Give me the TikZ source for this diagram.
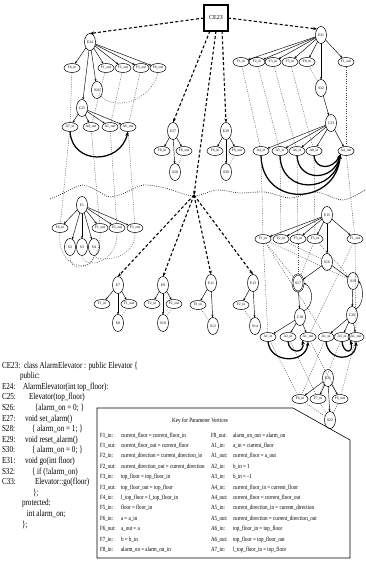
\documentclass[tikz,border=0pt]{standalone}
\usepackage{fontspec}
\setmainfont{Liberation Serif}
\newfontfamily\condfont[FakeStretch=0.8]{Liberation Serif}
\newfontfamily\codefont[FakeStretch=0.78]{Liberation Serif}
\usetikzlibrary{shapes.geometric,arrows.meta}
\begin{document}
\begin{tikzpicture}[x=1pt,y=-1pt,
  every node/.style={inner sep=0pt,outer sep=0pt},
  pnode/.style={draw,ellipse,line width=0.5pt,minimum width=16pt,minimum height=9pt,font=\fontsize{3.6}{4}\selectfont},
  snode/.style={draw,ellipse,line width=0.5pt,minimum width=11pt,minimum height=17pt,font=\fontsize{3.8}{4}\selectfont},
  ed/.style={-{Stealth[length=2.6pt,width=2pt]},line width=0.45pt},
  callx/.style={-{Stealth[length=4pt,width=3pt]},line width=1.1pt,dash pattern=on 3pt off 2.2pt},
  flow/.style={line width=0.4pt,dash pattern=on 1pt off 1.3pt,black!75},
  wave/.style={line width=0.6pt,dash pattern=on 0.8pt off 1.4pt},
  summ/.style={-{Stealth[length=4.5pt,width=3.5pt]},line width=1.25pt},
  codetxt/.style={anchor=base west,font=\fontsize{9.2}{9}\codefont},
  keytxt/.style={anchor=base west,font=\fontsize{6.3}{7}\condfont},
]
\useasboundingbox (0,0) rectangle (365,583);

% ---------------- top: class entry
\node[draw,line width=1.1pt,minimum width=24pt,minimum height=26pt,font=\fontsize{6}{6}\selectfont] (ce23) at (216,18) {CE23};

% ---------------- E24 cluster
\node[snode] (e24) at (90,42) {E24};
\node[pnode] (l1a) at (72,68) {F4\_in};
\node[pnode] (l1b) at (106,68) {F1\_out};
\node[pnode] (l1c) at (123,68) {F2\_out};
\node[pnode] (l1d) at (141,68) {F3\_out};
\node[pnode] (l1e) at (158,68) {F8\_out};
\node[snode] (s26) at (97,90) {S26};
\node[snode] (c25) at (82,108) {C25};
\node[pnode] (l2a) at (70,127) {A7\_in};
\node[pnode] (l2b) at (91,127) {A4\_out};
\node[pnode] (l2c) at (110,127) {A5\_out};
\node[pnode] (l2d) at (128,127) {A6\_out};
\foreach \n in {l1a,l1b,l1c,l1d,l1e,s26,c25} \draw[ed] (e24) -- (\n);
\foreach \n in {l2a,l2b,l2c,l2d} \draw[ed] (c25) -- (\n);
\draw[summ] (l2a.south) .. controls (72,165) and (120,165) .. (l2d.south);

% ---------------- E1 cluster (below wave)
\node[snode] (e1) at (82,205) {E1};
\node[pnode] (b1a) at (60,228) {F4\_in};
\node[pnode] (b1b) at (100,228) {F1\_out};
\node[pnode] (b1c) at (117,228) {F2\_out};
\node[pnode] (b1d) at (135,228) {F3\_out};
\node[snode] (s2) at (70,247) {S2};
\node[snode] (s3) at (82,247) {S3};
\node[snode] (s4) at (94,247) {S4};
\foreach \n in {b1a,b1b,b1c,b1d,s2,s3,s4} \draw[ed] (e1) -- (\n);

% ---------------- E27 / E29 groups
\node[snode] (e27) at (173,131) {E27};
\node[pnode] (m1a) at (162,151) {F8\_in};
\node[pnode] (m1b) at (184,151) {F8\_out};
\node[snode] (s28) at (175,172) {S28};
\foreach \n in {m1a,m1b,s28} \draw[ed] (e27) -- (\n);
\node[snode] (e29) at (226,131) {E29};
\node[pnode] (m2a) at (215,151) {F8\_in};
\node[pnode] (m2b) at (237,151) {F8\_out};
\node[snode] (s30) at (226,172) {S30};
\foreach \n in {m2a,m2b,s30} \draw[ed] (e29) -- (\n);

% ---------------- E31 cluster
\node[snode] (e31) at (321,35) {E31};
\node[pnode] (t1a) at (241,62) {F1\_in};
\node[pnode] (t1b) at (257,62) {F2\_in};
\node[pnode] (t1c) at (273,62) {F3\_in};
\node[pnode] (t1d) at (290,62) {F5\_in};
\node[pnode] (t1e) at (307,62) {F8\_in};
\node[pnode] (t1f) at (346,62) {F1\_out};
\node[snode] (s32) at (321,88) {S32};
\node[snode] (c33) at (331,123) {C33};
\node[pnode] (t2a) at (261,151) {A4\_in};
\node[pnode] (t2b) at (280,151) {A5\_in};
\node[pnode] (t2c) at (297,151) {A6\_in};
\node[pnode] (t2d) at (314,151) {A8\_in};
\node[pnode] (t2e) at (346,151) {A4\_out};
\foreach \n in {t1a,t1b,t1c,t1d,t1e,t1f,s32} \draw[ed] (e31) -- (\n);
\draw[ed] (s32) -- (c33);
\foreach \n in {t2a,t2b,t2c,t2d,t2e} \draw[ed] (c33) -- (\n);
\draw[summ] (t2a.south) .. controls (262,208) and (336,206) .. (t2e.south west);
\draw[summ] (t2b.south) .. controls (281,195) and (335,194) .. (t2e.south west);
\draw[summ] (t2c.south) .. controls (298,182) and (334,182) .. (t2e.south west);
\draw[summ] (t2d.south) .. controls (315,170) and (333,170) .. (t2e.south west);

% ---------------- E15 cluster (below wave)
\node[snode] (e15) at (327,215) {E15};
\node[pnode] (r1a) at (263,239) {F1\_in};
\node[pnode] (r1b) at (281,239) {F2\_in};
\node[pnode] (r1c) at (298,239) {F3\_in};
\node[pnode] (r1d) at (315,239) {F5\_in};
\node[pnode] (r1e) at (355,239) {F1\_out};
\node[snode] (s16) at (327,262) {S16};
\node[snode,double,double distance=0.6pt] (s17) at (298,283) {S17};
\node[snode] (s19) at (353,281) {S19};
\node[snode] (c18) at (300,317) {C18};
\node[snode] (c20) at (352,315) {C20};
\node[pnode] (r2a) at (268,337) {A1\_in};
\node[pnode] (r2b) at (288,337) {A2\_in};
\node[pnode] (r2c) at (308,337) {A1\_out};
\node[pnode] (r2d) at (326,337) {A1\_in};
\node[pnode] (r2e) at (342,337) {A3\_in};
\node[pnode] (r2f) at (356,337) {A1\_out};
\node[snode] (e21) at (328,378) {E21};
\node[pnode] (r3a) at (300,399) {F6\_in};
\node[pnode] (r3b) at (318,399) {F7\_in};
\node[pnode] (r3c) at (340,399) {F6\_out};
\node[snode] (s22) at (330,420) {S22};
\foreach \n in {r1a,r1b,r1c,r1d,r1e,s16} \draw[ed] (e15) -- (\n);
\draw[ed] (s16) -- (s17);
\draw[ed] (s16) -- (s19);
\draw[ed] (s17) -- (c18);
\draw[ed] (s19) -- (c20);
\foreach \n in {r2a,r2b,r2c} \draw[ed] (c18) -- (\n);
\foreach \n in {r2d,r2e,r2f} \draw[ed] (c20) -- (\n);
\foreach \n in {r3a,r3b,r3c,s22} \draw[ed] (e21) -- (\n);
\draw[summ] (r2a.south) .. controls (270,364) and (306,364) .. (r2c.south);
\draw[summ] (r2b.south) .. controls (289,354) and (305,354) .. (r2c.south west);
\draw[summ] (r2d.south) .. controls (328,362) and (356,362) .. (r2f.south);
\draw[summ] (r2e.south) .. controls (343,354) and (354,354) .. (r2f.south west);

% ---------------- lower method groups
\node[snode] (e7) at (118,285) {E7};
\node[pnode] (g1a) at (102,304) {F1\_in};
\node[pnode] (g1b) at (129,304) {F1\_out};
\node[snode] (s8) at (118,323) {S8};
\node[snode] (e9) at (163,285) {E9};
\node[pnode] (g2a) at (152,304) {F2\_in};
\node[pnode] (g2b) at (174,304) {F2\_out};
\node[snode] (s10) at (163,323) {S10};
\node[snode] (e11) at (211,283) {E11};
\node[pnode] (g3a) at (198,305) {F1\_in};
\node[snode] (s12) at (213,326) {S12};
\node[snode] (e13) at (253,283) {E13};
\node[pnode] (g4a) at (241,305) {F2\_in};
\node[snode] (s14) at (255,326) {S14};
\foreach \n in {g1a,g1b,s8} \draw[ed] (e7) -- (\n);
\foreach \n in {g2a,g2b,s10} \draw[ed] (e9) -- (\n);
\foreach \n in {g3a,s12} \draw[ed] (e11) -- (\n);
\foreach \n in {g4a,s14} \draw[ed] (e13) -- (\n);

% ---------------- separating wave
\draw[wave] plot[smooth] coordinates {(50,199) (66,192) (82,185) (96,190) (110,197) (127,192) (143,185) (165,188) (193,196) (217,190) (240,193) (265,192) (290,198) (316,192) (343,200) (365,190)};

% ---------------- call edges
\coordinate (fan) at (194,195);
\draw[callx] (ce23.west) -- (e24.north);
\draw[callx] (ce23.east) -- (e31.north west);
\draw[callx] (ce23.-115) -- (e27.north);
\draw[callx] (ce23.south) -- (fan);
\draw[callx] (ce23.-65) -- (e29.north);
\foreach \n in {e7,e9,e11,e13} \draw[callx] (fan) -- (\n.north);

% ---------------- data-flow edges
\draw[flow] (s26.south east) .. controls (115,112) and (152,100) .. (l1e.south);
\draw[flow] (l1a) -- (l2a);
\draw[flow] (l2b) -- (l1b);
\draw[flow] (l2c) -- (l1c);
\draw[flow] (l2d) -- (l1d);
\draw[flow] (l2a) -- (b1a);
\draw[flow] (b1b) -- (l2b);
\draw[flow] (b1c) -- (l2c);
\draw[flow] (b1d) -- (l2d);
\draw[flow] (s2.south) .. controls (68,276) and (102,270) .. (b1b.south);
\draw[flow] (s3.south) .. controls (84,270) and (118,264) .. (b1c.south);
\draw[flow] (s4.south) .. controls (98,263) and (136,260) .. (b1d.south);
\draw[flow] (b1a.south) .. controls (56,268) and (92,274) .. (s4.south);
\draw[flow] (s28) -- (m1b);
\draw[flow] (s30) -- (m2b);
\draw[flow] (t1a) -- (t2a);
\draw[flow] (t1b) -- (t2b);
\draw[flow] (t1c) -- (t2c);
\draw[flow] (t1d) -- (t2d);
\draw[flow] (t2e) -- (t1f);
\draw[flow] (t1e) -- (s32);
\draw[flow] (t2a) -- (r1a);
\draw[flow] (t2b) -- (r1b);
\draw[flow] (t2c) -- (r1c);
\draw[flow] (t2d) -- (r1d);
\draw[flow] (r1e) -- (t2e);
\draw[flow] (r1a) -- (s17);
\draw[flow] (r1a) -- (s19);
\draw[flow] (r1b) -- (s16);
\draw[flow] (r1c) -- (s17);
\draw[flow] (r1d) -- (s19);
\draw[flow] (r1d) -- (s17);
\draw[flow] (r1a) -- (r2a);
\draw[flow] (r1a) -- (r2d);
\draw[flow] (r2c) -- (r1e);
\draw[flow] (r2f) -- (r1e);
\draw[flow] (r2a) -- (r3a);
\draw[flow] (r2b) -- (r3b);
\draw[flow] (r3c) -- (r2c);
\draw[flow] (r2d) -- (r3a);
\draw[flow] (r2e) -- (r3b);
\draw[flow] (r3c) -- (r2f);
\draw[flow] (r3a) -- (s22);
\draw[flow] (r3b) -- (s22);
\draw[flow] (s22) -- (r3c);
\draw[flow] (g1b) -- (s8);
\draw[flow] (g2b) -- (s10);
\draw[flow] (g3a) -- (s12);
\draw[flow] (g4a) -- (s14);
\draw[ed] (c18.north east) .. controls (314,306) and (314,288) .. (s17.east);
\draw[ed] (c20.north east) .. controls (364,305) and (364,288) .. (s19.east);

% ---------------- source code
\node[codetxt] (k1) at (2,368) {CE23:};  \node[codetxt] (c1) at (24,368) {class AlarmElevator : public Elevator \{};
\node[codetxt] (c2) at (20,378.6) {public:};
\node[codetxt] (k3) at (2,389.2) {E24:};   \node[codetxt] (c3) at (23,389.2) {AlarmElevator(int top\_floor):};
\node[codetxt] (k4) at (2,399.8) {C25:};   \node[codetxt] (c4) at (29,399.8) {Elevator(top\_floor)};
\node[codetxt] (k5) at (2,410.4) {S26:};   \node[codetxt] (c5) at (35,410.4) {\{alarm\_on = 0; \}};
\node[codetxt] (k6) at (2,421) {E27:};   \node[codetxt] (c6) at (25,421) {void set\_alarm()};
\node[codetxt] (k7) at (2,431.6) {S28:};   \node[codetxt] (c7) at (32,431.6) {\{ alarm\_on = 1; \}};
\node[codetxt] (k8) at (2,442.2) {E29:};   \node[codetxt] (c8) at (25,442.2) {void reset\_alarm()};
\node[codetxt] (k9) at (2,452.8) {S30:};   \node[codetxt] (c9) at (32,452.8) {\{ alarm\_on = 0; \}};
\node[codetxt] (k10) at (2,463.4) {E31:};  \node[codetxt] (c10) at (25,463.4) {void go(int floor)};
\node[codetxt] (k11) at (2,474) {S32:};  \node[codetxt] (c11) at (32,474) {\{ if (!alarm\_on)};
\node[codetxt] (k12) at (2,484.6) {C33:};  \node[codetxt] (c12) at (35,484.6) {Elevator::go(floor)};
\node[codetxt] (c13) at (33,495.2) {\};};
\node[codetxt] (c14) at (22,505.8) {protected:};
\node[codetxt] (c15) at (27,516.4) {int alarm\_on;};
\node[codetxt] (c16) at (22,527) {\};};

% ---------------- key table
\draw[line width=0.6pt] (97,408) -- (293,408) -- (350,440) -- (350,558) -- (97,558) -- cycle;
\node[font=\fontsize{6.4}{7}\condfont] (kt) at (200,421) {Key for Parameter Vertices};
\foreach \a/\b/\c/\d [count=\i] in {
 F1\_in:/current\_floor = current\_floor\_in/F8\_out:/alarm\_on\_out = alarm\_on,
 F1\_out:/current\_floor\_out = current\_floor/A1\_in:/a\_in = current\_floor,
 F2\_in:/current\_direction = current\_direction\_in/A1\_out:/current\_floor = a\_out,
 F2\_out:/current\_direction\_out = current\_direction/A2\_in:/b\_in = 1,
 F3\_in:/top\_floor = top\_floor\_in/A3\_in:/b\_in = -1,
 F3\_out:/top\_floor\_out = top\_floor/A4\_in:/current\_floor\_in = current\_floor,
 F4\_in:/l\_top\_floor = l\_top\_floor\_in/A4\_out:/current\_floor = current\_floor\_out,
 F5\_in:/floor = floor\_in/A5\_in:/current\_direction\_in = current\_direction,
 F6\_in:/a = a\_in/A5\_out:/current\_direction = current\_direction\_out,
 F6\_out:/a\_out = a/A6\_in:/top\_floor\_in = top\_floor,
 F7\_in:/b = b\_in/A6\_out:/top\_floor = top\_floor\_out,
 F8\_in:/alarm\_on = alarm\_on\_in/A7\_in:/l\_top\_floor\_in = top\_floor}{
  \pgfmathsetmacro{\yy}{437+(\i-1)*10.4}
  \node[keytxt] (ka\i) at (100,\yy) {\a};
  \node[keytxt] (kb\i) at (121,\yy) {\b};
  \node[keytxt] (kc\i) at (211,\yy) {\c};
  \node[keytxt] (kd\i) at (233,\yy) {\d};
}
\end{tikzpicture}
\end{document}
